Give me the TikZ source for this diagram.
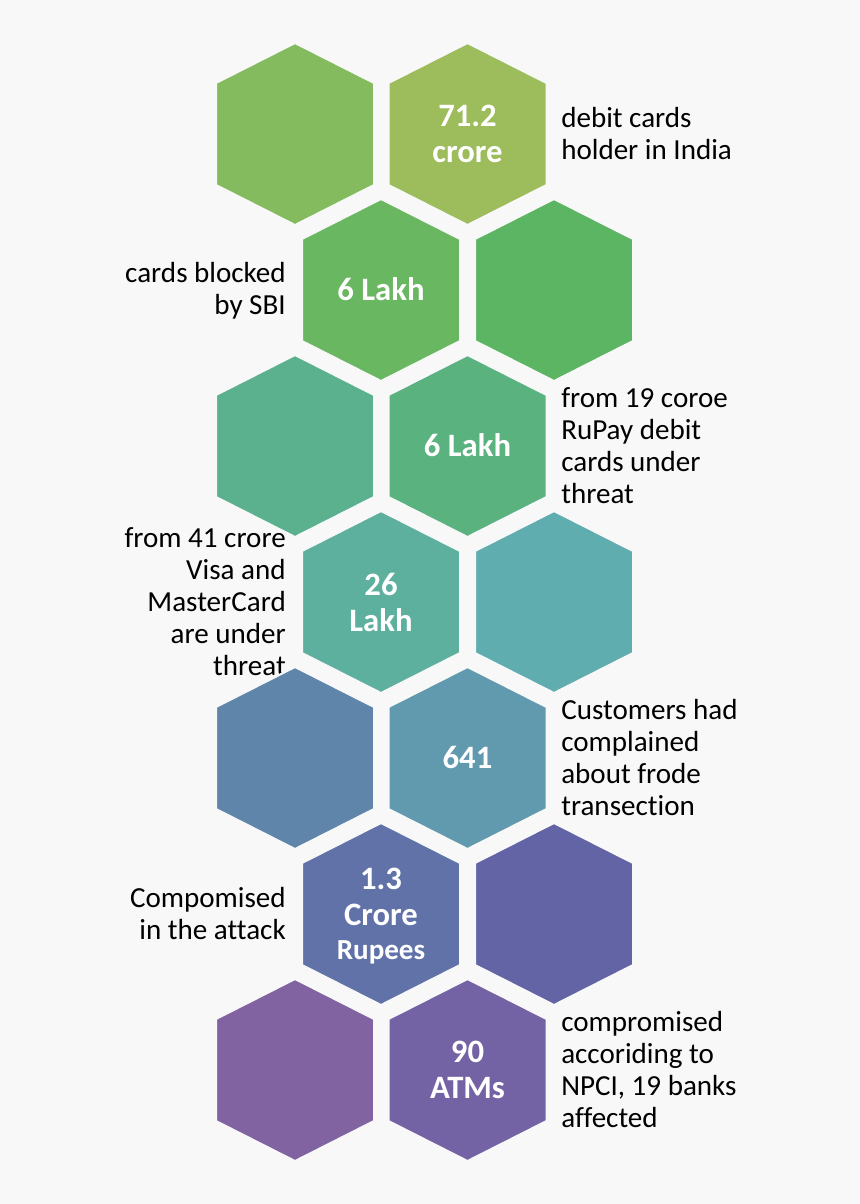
\documentclass[tikz,border=0pt]{standalone}
\usepackage{fontspec}
\setmainfont{Carlito}[Ligatures=NoCommon]
\definecolor{bgc}{HTML}{F8F8F8}
\definecolor{ha}{HTML}{84BB5F}\definecolor{hb}{HTML}{9DBC5C}
\definecolor{hc}{HTML}{6AB761}\definecolor{hd}{HTML}{5BB563}
\definecolor{he}{HTML}{5BB08E}\definecolor{hf}{HTML}{5AB27E}
\definecolor{hg}{HTML}{5DAF9E}\definecolor{hh}{HTML}{60ADB0}
\definecolor{hi}{HTML}{6085AB}\definecolor{hj}{HTML}{6199AE}
\definecolor{hk}{HTML}{6072A8}\definecolor{hl}{HTML}{6264A5}
\definecolor{hm}{HTML}{8263A1}\definecolor{hn}{HTML}{7363A5}
\tikzset{
  x=0.75pt,y=-0.75pt,
  hexfill/.style={draw=bgc,line width=1.5pt,line join=miter},
  hexlabel/.style={text=white,font=\fontsize{24.5}{27}\selectfont\bfseries,align=center,inner sep=0pt},
  notel/.style={text=black,font=\fontsize{21.8}{24}\selectfont,align=left,anchor=west,inner sep=0pt},
  noter/.style={text=black,font=\fontsize{21.8}{24}\selectfont,align=right,anchor=east,inner sep=0pt},
}
% [label offset in px] name, x, y, colour, label
\newcommand{\hexcell}[6][0]{%
  \fill[#5,hexfill] (#3,#4) +(0,-91) -- +(79,-51) -- +(79,51) -- +(0,91) -- +(-79,51) -- +(-79,-51) -- cycle;
  \node[hexlabel] (#2) at ($(#3,#4)+(0,#1)$) {#6};
}
\usetikzlibrary{calc}
\begin{document}
\begin{tikzpicture}
\useasboundingbox (0,0) rectangle (860,1204);
\fill[bgc] (0,0) rectangle (860,1204);
\node[notel] (t1) at (561,133.3) {debit cards\\holder in India};
\node[noter] (t2) at (286,290.5) {cards blocked\\by SBI};
\node[notel] (t3) at (561,445.3) {from 19 coroe\\RuPay debit\\cards under\\threat};
\node[noter] (t4) at (286,602) {from 41 crore\\Visa and\\MasterCard\\are under\\threat};
\node[notel] (t5) at (561,758) {Customers had\\complained\\about frode\\transection};
\node[noter] (t6) at (286,914) {Compomised\\in the attack};
\node[notel] (t7) at (561,1069.3) {compromised\\accoriding to\\NPCI, 19 banks\\affected};
\hexcell{a}{295}{134}{ha}{}
\hexcell{b}{467.5}{134}{hb}{71.2\\crore}
\hexcell[-1]{c}{381}{290}{hc}{6 Lakh}
\hexcell{d}{554}{290}{hd}{}
\hexcell{e}{295}{446}{he}{}
\hexcell[-1]{f}{467.5}{446}{hf}{6 Lakh}
\hexcell{g}{381}{602}{hg}{26\\Lakh}
\hexcell{h}{554}{602}{hh}{}
\hexcell{i}{295}{758}{hi}{}
\hexcell[-1]{j}{467.5}{758}{hj}{641}
\hexcell[2]{k}{381}{914}{hk}{1.3\\Crore\\[-1pt]{\fontsize{21.8}{24}\selectfont Rupees}}
\hexcell{l}{554}{914}{hl}{}
\hexcell{m}{295}{1070}{hm}{}
\hexcell{n}{467.5}{1070}{hn}{90\\ATMs}
\end{tikzpicture}
\end{document}
